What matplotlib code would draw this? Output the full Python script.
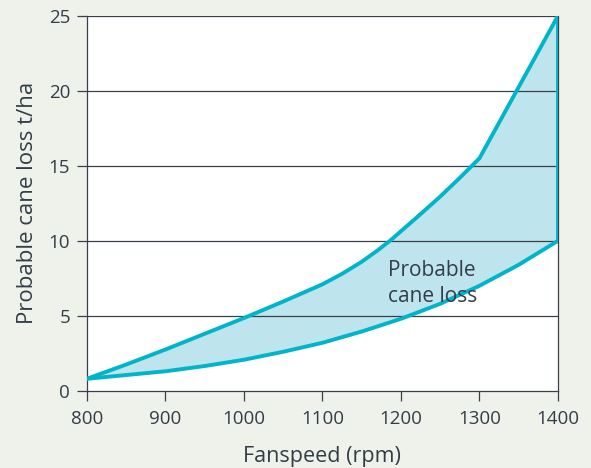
import matplotlib
matplotlib.use("Agg")
import matplotlib.pyplot as plt

# === DATA ===
upper_rpm = [800, 850, 900, 950, 1000, 1050, 1100, 1125, 1150, 1170, 1186,
             1220, 1250, 1275, 1300, 1400]
upper_loss = [0.8, 1.75, 2.75, 3.8, 4.85, 5.95, 7.1, 7.8, 8.6, 9.35, 10.0,
              11.55, 12.95, 14.2, 15.5, 25.0]

lower_rpm = [800, 850, 900, 950, 1000, 1050, 1100, 1150, 1200, 1250, 1300, 1350, 1400]
lower_loss = [0.8, 1.05, 1.3, 1.65, 2.07, 2.6, 3.2, 3.95, 4.8, 5.8, 7.0, 8.4, 10.0]

x_ticks = [800, 900, 1000, 1100, 1200, 1300, 1400]
y_ticks = [0, 5, 10, 15, 20, 25]

# === STYLE ===
BG = "#eff2ea"
LINE = "#00b5c9"
FILL = "#bee5ed"
TEXT = "#333d47"
DARK = "#3a4048"

plt.rcParams["font.family"] = ["Open Sans", "DejaVu Sans"]

fig = plt.figure(figsize=(5.91, 4.68), dpi=100, facecolor=BG)
ax = fig.add_axes([0.147, 0.165, 0.797, 0.801])
ax.set_facecolor("white")

# shaded band between the curves
fill_x = upper_rpm + lower_rpm[::-1]
fill_y = upper_loss + lower_loss[::-1]
ax.fill(fill_x, fill_y, color=FILL, zorder=1, lw=0)

for y in y_ticks[1:]:
    ax.axhline(y, color=DARK, lw=0.9, zorder=2)

ax.plot(upper_rpm, upper_loss, color=LINE, lw=2.8, zorder=3)
ax.plot(lower_rpm, lower_loss, color=LINE, lw=2.8, zorder=3)
ax.plot([upper_rpm[-1], lower_rpm[-1]], [upper_loss[-1], lower_loss[-1]],
        color=LINE, lw=2.8, zorder=3)

ax.text(1183, 8.75, "Probable\ncane loss", fontsize=15, color=TEXT,
        va="top", ha="left", linespacing=1.35, zorder=4)

ax.set_xlim(800, 1400)
ax.set_ylim(0, 25)
ax.set_xticks(x_ticks)
ax.set_yticks(y_ticks)
ax.tick_params(axis="both", colors=DARK, labelcolor=TEXT, labelsize=13.5,
               length=7, width=0.9, direction="out")
ax.tick_params(axis="x", pad=7)
ax.tick_params(axis="y", pad=5)

for side in ["left", "bottom", "right"]:
    ax.spines[side].set_color(DARK)
    ax.spines[side].set_linewidth(0.9)
ax.spines["top"].set_visible(False)

ax.set_xlabel("Fanspeed (rpm)", fontsize=15.5, color=TEXT, labelpad=13)
ax.set_ylabel("Probable cane loss t/ha", fontsize=16, color=TEXT, labelpad=8)

fig.savefig("out.png", dpi=100, facecolor=BG)
